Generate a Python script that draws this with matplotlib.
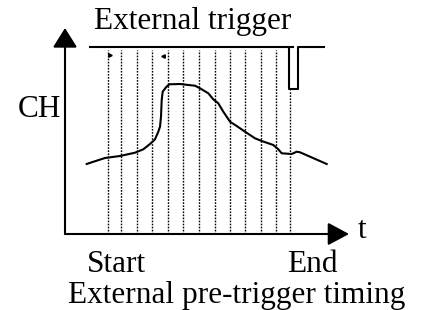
import matplotlib
matplotlib.use('Agg')
import matplotlib.pyplot as plt

plt.rcParams['font.family'] = ['Liberation Serif', 'DejaVu Serif']

# waveform on the CH channel (t, CH in arbitrary units)
wave_t = [2.17, 2.67, 4.0, 5.5, 7.0, 7.83, 8.5, 9.0, 9.33, 9.5, 9.6, 9.67, 9.77,
          10.1, 10.43, 11.5, 12.33, 13.0, 13.5, 14.33, 14.83, 15.33, 15.83, 16.5,
          17.17, 18.0, 19.0, 19.67, 20.83, 21.33, 21.67, 22.67, 23.17, 23.5, 26.17]
wave_ch = [7.0, 7.17, 7.6, 7.8, 8.13, 8.47, 9.0, 9.47, 10.23, 10.73, 11.73, 13.4, 14.23,
           14.67, 14.97, 15.0, 14.9, 14.83, 14.57, 14.07, 13.47, 13.07, 12.23, 11.23,
           10.8, 10.23, 9.57, 9.3, 8.9, 8.47, 8.07, 8.0, 8.23, 8.17, 7.0]

# sampling instants (dotted lines)
sample_t = [4.3, 5.6, 7.2, 8.7, 10.3, 11.8, 13.4, 15.0, 16.5, 18.0, 19.6, 21.1, 22.5]
sample_top = 18.4
pulse_bottom = 14.4

# external trigger signal
trig_high = 18.7
trig_low = 14.5
trig_t1 = [2.5, 22.77]
trig_ch1 = [trig_high, trig_high]
trig_t2 = [22.4, 22.4, 23.27, 23.27, 25.9]
trig_ch2 = [18.6, trig_low, trig_low, trig_high, trig_high]

W, H = 422, 310
fig = plt.figure(figsize=(W / 100, H / 100), dpi=100)
ax = fig.add_axes([65 / W, 76 / H, 284 / W, 206 / H])
ax.set_xlim(0, 28.4)
ax.set_ylim(0, 20.6)
ax.axis('off')

for i, t in enumerate(sample_t):
    line_top = pulse_bottom if i == len(sample_t) - 1 else sample_top
    ax.plot([t, t], [0, line_top], color='black', lw=1.0, linestyle=(0, (1.2, 1.0)))

ax.plot(wave_t, wave_ch, color='black', lw=1.5, solid_joinstyle='round')
ax.plot(trig_t1, trig_ch1, color='black', lw=1.5)
ax.plot(trig_t2, trig_ch2, color='black', lw=1.5)

# tiny markers near the trigger line
ax.plot([4.5], [17.9], marker='>', color='black', ms=2.5)
ax.plot([9.83], [17.83], marker='<', color='black', ms=2.5)

# axes with arrows
ax.annotate('', xy=(28.4, 0), xytext=(0, 0),
            arrowprops=dict(arrowstyle='-|>,head_length=13,head_width=7', lw=1.5,
                            color='black', shrinkA=0, shrinkB=0, mutation_scale=1),
            annotation_clip=False)
ax.annotate('', xy=(0, 20.6), xytext=(0, 0),
            arrowprops=dict(arrowstyle='-|>,head_length=12,head_width=7.5', lw=1.5,
                            color='black', shrinkA=0, shrinkB=0, mutation_scale=1),
            annotation_clip=False)

fs = 22.5
def label(x, y, s):
    fig.text(x / W, 1 - y / H, s, fontsize=fs, ha='left', va='baseline')

label(94.3, 28.5, 'External trigger')
label(18, 117, 'CH')
label(357.7, 238.3, 't')
label(87, 272, 'Start')
label(287, 272, 'End')
label(68.3, 303.3, 'External pre-trigger timing')

fig.savefig('out.png', dpi=100)
